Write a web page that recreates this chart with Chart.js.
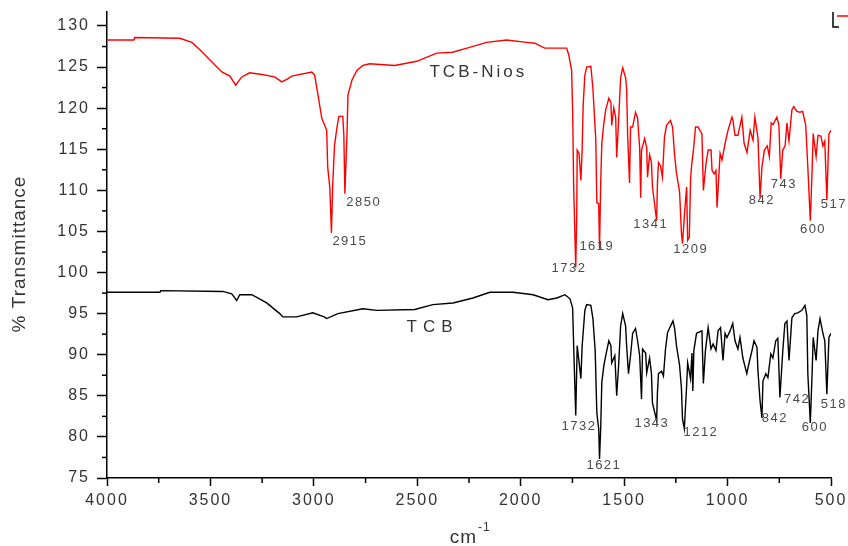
<!DOCTYPE html>
<html><head><meta charset="utf-8">
<script src="https://cdn.jsdelivr.net/npm/chart.js@4"></script>
<style>html,body{margin:0;padding:0;background:#fff}#wrap{width:848px;height:546px}</style>
</head><body><div id="wrap"><canvas id="c" width="848" height="546"></canvas></div>
<script>
// ---- Data (wavenumber cm-1, % transmittance) ----
const nioWn = [4000,3870,3866,3648,3590,3551,3445,3406,3378,3349,3310,3252,3190,3155,3131,3107,3010,2996,2976,2962,2938,2933,2923,2915,2909,2900,2888,2879,2860,2855,2850,2840,2835,2816,2792,2763,2730,2609,2503,2406,2329,2247,2165,2068,1971,1932,1884,1778,1768,1754,1749,1744,1734,1729,1727,1718,1709,1703,1698,1690,1681,1661,1651,1637,1632,1623,1619,1613,1608,1598,1589,1574,1564,1560,1550,1541,1536,1526,1517,1507,1493,1488,1483,1474,1469,1459,1445,1435,1425,1420,1416,1401,1391,1387,1377,1368,1363,1343,1339,1334,1324,1315,1305,1295,1276,1266,1256,1247,1232,1223,1218,1208,1198,1193,1185,1179,1174,1165,1155,1143,1124,1117,1104,1094,1080,1075,1065,1056,1051,1036,1027,1012,998,979,974,964,950,931,920,906,891,877,868,853,843,834,822,808,798,789,780,762,752,743,733,722,713,703,689,680,665,651,637,622,612,600,591,586,572,563,549,539,530,520,510,500];
const nioT  = [128.3,128.3,128.6,128.5,128.0,127.1,124.4,123.9,122.8,123.8,124.3,124.1,123.8,123.2,123.5,123.9,124.4,124.0,121.0,118.8,117.3,112.8,110.4,104.8,110.6,115.5,117.7,119.0,119.0,116.7,109.6,116.7,121.6,123.4,124.6,125.2,125.4,125.2,125.7,126.7,126.8,127.4,128.0,128.3,128.0,127.9,127.3,127.3,126.5,124.6,119.8,110.4,100.6,107.2,114.9,114.5,111.2,114.9,120.4,124.0,125.0,125.1,122.4,116.1,108.5,108.4,102.9,111.2,115.7,118.2,119.8,121.2,120.7,117.9,120.0,118.9,114.0,118.9,123.7,124.9,123.7,122.4,116.7,110.9,117.7,117.7,119.5,118.8,115.2,109.1,114.9,116.3,115.2,111.6,114.3,113.4,110.4,106.3,110.9,113.4,113.0,111.6,116.5,117.9,118.5,117.7,114.3,112.1,109.8,104.8,103.5,107.2,110.4,103.9,104.3,111.2,113.0,114.9,117.7,117.7,116.9,110.0,113.3,114.9,114.9,112.4,112.0,112.4,107.9,114.5,113.7,115.7,117.3,118.9,118.5,116.7,116.7,118.9,115.7,114.6,117.3,116.1,118.9,116.4,109.1,112.8,114.9,115.4,114.1,118.2,118.0,118.9,118.0,111.4,114.9,115.4,118.2,116.0,119.8,120.2,119.6,119.5,119.6,117.9,112.8,106.3,112.7,116.9,114.1,116.7,116.6,115.4,116.0,108.8,116.9,117.3];

const tcbWn = [4000,3744,3740,3440,3397,3373,3358,3300,3228,3165,3150,3083,3005,2950,2938,2884,2763,2696,2512,2425,2327,2231,2149,2037,1940,1868,1825,1786,1762,1749,1744,1734,1731,1727,1709,1703,1698,1690,1681,1661,1651,1640,1632,1623,1619,1613,1608,1598,1589,1574,1564,1560,1545,1536,1526,1517,1507,1493,1488,1479,1469,1459,1445,1435,1425,1416,1411,1396,1391,1377,1368,1363,1343,1339,1334,1319,1310,1300,1290,1264,1256,1247,1232,1223,1218,1209,1198,1193,1179,1172,1168,1163,1150,1124,1117,1107,1094,1080,1070,1056,1046,1034,1022,1012,1003,988,975,964,950,940,926,917,907,897,882,872,858,853,843,834,829,815,805,791,781,767,757,747,733,723,713,703,689,675,660,641,626,617,612,600,591,586,572,563,553,539,530,520,510,500];
const tcbT  = [97.6,97.6,97.8,97.7,97.4,96.6,97.3,97.3,96.3,95.0,94.6,94.6,95.1,94.6,94.4,95.0,95.6,95.4,95.5,96.1,96.3,96.9,97.6,97.6,97.3,96.7,96.9,97.3,96.8,95.7,91.1,82.6,86.2,91.1,87.1,91.1,92.7,95.4,96.1,96.0,94.4,90.5,82.9,81.0,77.3,81.3,86.6,88.7,89.9,91.7,91.1,89.0,89.9,85.0,89.0,93.5,95.0,93.5,91.1,87.7,89.9,92.6,93.2,91.7,89.9,84.6,90.7,90.2,87.8,89.6,87.7,84.1,82.0,85.4,87.7,88.0,87.4,90.7,92.7,94.1,93.2,91.1,88.7,85.9,82.2,81.0,86.2,89.0,87.1,90.2,85.6,90.5,92.6,92.9,86.5,90.5,93.3,90.7,91.3,90.5,92.9,93.3,89.3,92.6,92.1,92.9,93.8,91.7,90.7,92.1,89.6,88.7,87.7,88.9,90.5,91.7,90.9,88.0,84.4,82.3,86.8,87.7,87.2,90.1,89.6,91.7,92.0,84.8,90.5,93.8,94.1,89.3,94.5,95.0,95.1,95.4,96.0,94.8,87.7,81.7,88.0,92.1,89.3,92.9,94.4,92.6,91.7,85.2,92.1,92.6];

// peak annotation labels (text, label centre in data units)
const nioPeakText = ['2915','2850','1732','1619','1341','1209','842','743','600','517'];
const nioPeakWn   = [2826,2759,1767,1632,1371,1178,834,728,587,486];
const nioPeakT    = [103.8,108.5,100.5,103.2,105.9,102.8,108.8,110.7,105.2,108.3];
const tcbPeakText = ['1732','1621','1343','1212','842','742','600','518'];
const tcbPeakWn   = [1718,1598,1366,1129,771,664,578,486];
const tcbPeakT    = [81.3,76.5,81.6,80.5,82.3,84.6,81.2,83.9];

const seriesNames = ['TCB-Nios','TCB'];
const seriesNameWn = [2205,2426];
const seriesNameT  = [124.4,93.3];

const xTicks = [4000,3500,3000,2500,2000,1500,1000,500];
const xMinor = [3750,3250,2750,2250,1750,1250,750];
const yTicks = [75,80,85,90,95,100,105,110,115,120,125,130];
const yMinor = [77.5,82.5,87.5,92.5,97.5,102.5,107.5,112.5,117.5,122.5,127.5];

const FONT = '"Liberation Sans", Arial, sans-serif';

const decor = {
  id: 'decor',
  beforeDraw(chart){ chart.ctx.letterSpacing = '2px'; },
  afterDraw(chart){
    const {ctx, chartArea:a, scales:{x, y}} = chart;
    ctx.save();
    ctx.letterSpacing = '0px';
    ctx.strokeStyle = '#000'; ctx.lineWidth = 1.5;
    xMinor.forEach(v => { const p = x.getPixelForValue(v); ctx.beginPath(); ctx.moveTo(p, a.bottom); ctx.lineTo(p, a.bottom + 5); ctx.stroke(); });
    yMinor.forEach(v => { const p = y.getPixelForValue(v); ctx.beginPath(); ctx.moveTo(a.left, p); ctx.lineTo(a.left - 5, p); ctx.stroke(); });
    // legend fragment at top right
    ctx.beginPath(); ctx.moveTo(a.right + 2, a.top); ctx.lineTo(a.right + 2, a.top + 15); ctx.lineTo(a.right + 8, a.top + 15); ctx.stroke();
    ctx.strokeStyle = '#ff0000'; ctx.beginPath(); ctx.moveTo(a.right + 6, a.top + 4); ctx.lineTo(chart.width, a.top + 4); ctx.stroke();
    // peak labels
    ctx.fillStyle = '#4a4a4a'; ctx.textAlign = 'center'; ctx.textBaseline = 'middle';
    ctx.font = '13px ' + FONT; ctx.letterSpacing = '1.5px';
    nioPeakText.forEach((t,i) => ctx.fillText(t, x.getPixelForValue(nioPeakWn[i]), y.getPixelForValue(nioPeakT[i])));
    tcbPeakText.forEach((t,i) => ctx.fillText(t, x.getPixelForValue(tcbPeakWn[i]), y.getPixelForValue(tcbPeakT[i])));
    // series names
    ctx.fillStyle = '#333'; ctx.font = '17px ' + FONT;
    ctx.letterSpacing = '3px';
    ctx.fillText(seriesNames[0], x.getPixelForValue(seriesNameWn[0]), y.getPixelForValue(seriesNameT[0]));
    ctx.letterSpacing = '6px';
    ctx.fillText(seriesNames[1], x.getPixelForValue(seriesNameWn[1]), y.getPixelForValue(seriesNameT[1]));
    // y title
    ctx.letterSpacing = '1px';
    ctx.font = '19px ' + FONT; ctx.fillStyle = '#333';
    ctx.save(); ctx.translate(20, 254); ctx.rotate(-Math.PI/2); ctx.fillText('% Transmittance', 0, 0); ctx.restore();
    // x title
    ctx.font = '19px ' + FONT; ctx.textAlign = 'right'; ctx.textBaseline = 'alphabetic';
    const cx = (a.left + a.right)/2 - 8;
    ctx.fillText('cm', cx + 16, 543);
    ctx.font = '12px ' + FONT; ctx.textAlign = 'left';
    ctx.fillText('-1', cx + 17, 531);
    ctx.restore();
  }
};

new Chart(document.getElementById('c'), {
  type: 'line',
  data: {
    datasets: [
      { label: seriesNames[0], data: nioWn.map((w,i)=>({x:w, y:nioT[i]})), borderColor: '#ff0000', borderWidth: 1.4, pointRadius: 0, tension: 0 },
      { label: seriesNames[1], data: tcbWn.map((w,i)=>({x:w, y:tcbT[i]})), borderColor: '#000000', borderWidth: 1.4, pointRadius: 0, tension: 0 }
    ]
  },
  options: {
    responsive: false, animation: false,
    layout: { padding: { left: 0, right: 17, top: 12, bottom: 0 } },
    plugins: { legend: { display: false }, tooltip: { enabled: false } },
    scales: {
      x: {
        type: 'linear', reverse: true, min: 500, max: 4000,
        afterBuildTicks: s => { s.ticks = xTicks.map(v => ({value: v})); },
        afterFit: s => { s.height = 68; s.paddingLeft = 0; s.paddingRight = 0; },
        grid: { drawOnChartArea: false, drawTicks: true, tickLength: 8, tickColor: '#000', tickWidth: 1.5 },
        border: { display: true, color: '#000', width: 1.5 },
        ticks: { color: '#333', font: { family: FONT, size: 16 }, padding: 5, maxRotation: 0, autoSkip: false, callback: v => String(v) }
      },
      y: {
        type: 'linear', min: 75, max: 131.7,
        afterBuildTicks: s => { s.ticks = yTicks.map(v => ({value: v})); },
        afterFit: s => { s.width = 107; s.paddingTop = 0; s.paddingBottom = 0; },
        grid: { drawOnChartArea: false, drawTicks: true, tickLength: 10, tickColor: '#000', tickWidth: 1.5 },
        border: { display: true, color: '#000', width: 1.5 },
        ticks: { color: '#333', font: { family: FONT, size: 16 }, padding: 7, autoSkip: false, callback: v => String(v) }
      }
    }
  },
  plugins: [decor]
});
</script>
</body></html>
